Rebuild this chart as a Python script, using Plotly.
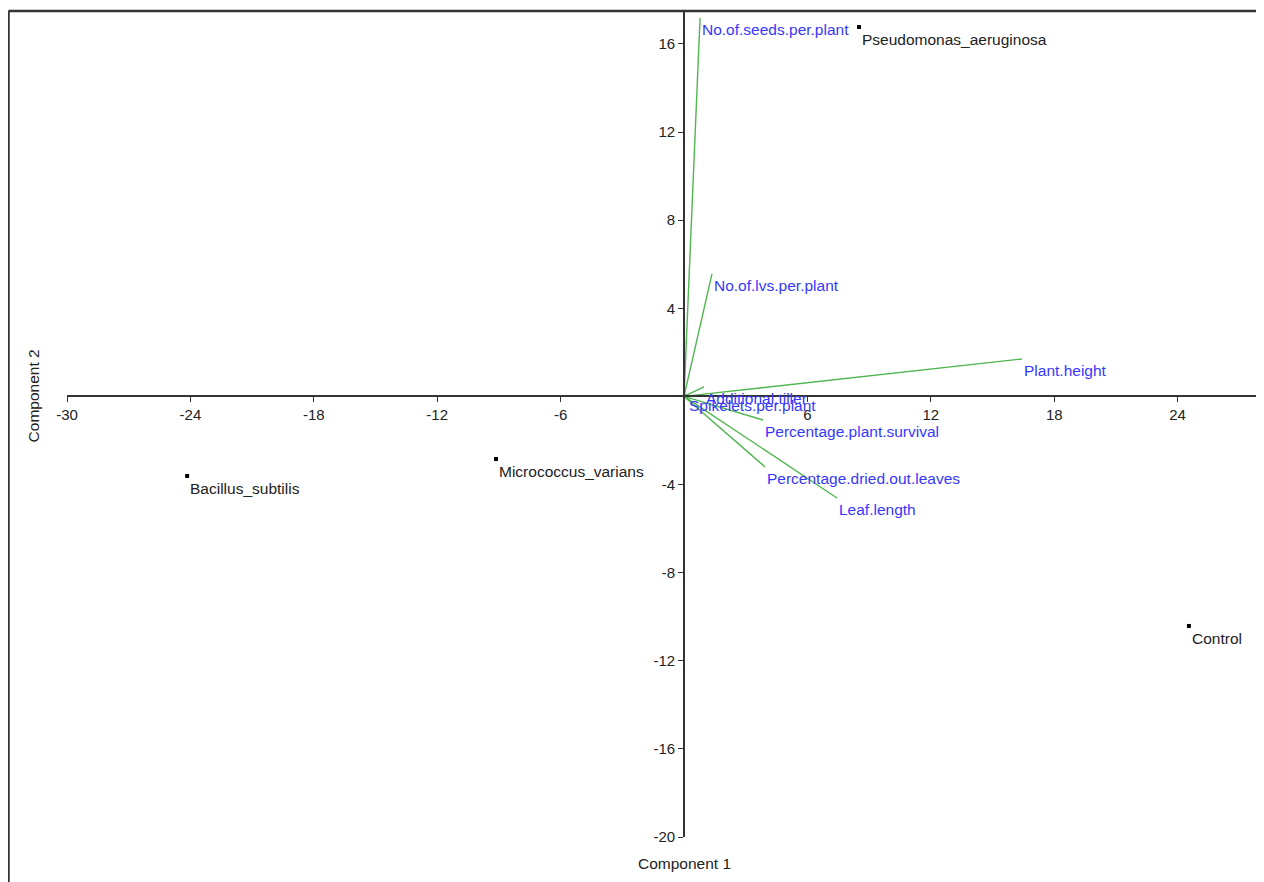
import plotly.graph_objects as go

# ---- data ----
sample_names = ["Pseudomonas_aeruginosa", "Bacillus_subtilis", "Micrococcus_varians", "Control"]
score_x = [8.51, -24.16, -9.14, 24.55]
score_y = [16.77, -3.61, -2.84, -10.42]

var_names = ["Plant.height", "No.of.seeds.per.plant", "No.of.lvs.per.plant",
             "Percentage.plant.survival", "Percentage.dried.out.leaves", "Leaf.length",
             "Additional.tiller", "Spikelets.per.plant"]
load_x = [16.43, 0.78, 1.36, 3.84, 3.94, 7.44, 0.97, 0.15]
load_y = [1.70, 17.18, 5.56, -1.07, -3.20, -4.61, 0.43, 0.11]

x_ticks = [-30, -24, -18, -12, -6, 6, 12, 18, 24]
y_ticks = [-20, -16, -12, -8, -4, 4, 8, 12, 16]

X_RANGE = [-30, 28.2]
Y_RANGE = [-20, 17.45]

FONT = "Liberation Sans, Arial, sans-serif"
GREEN = "rgb(80,182,80)"
BLUE = "rgb(55,55,255)"
TXT = "#222222"
LBL = 15.5

fig = go.Figure()

# loading vectors
lx, ly = [], []
for a, b in zip(load_x, load_y):
    lx += [0, a, None]
    ly += [0, b, None]
fig.add_trace(go.Scatter(x=lx, y=ly, mode="lines", line=dict(color=GREEN, width=1.4),
                         hoverinfo="skip", showlegend=False))

# sample scores
fig.add_trace(go.Scatter(x=score_x, y=score_y, mode="markers",
                         marker=dict(symbol="square", size=4, color="black"),
                         text=sample_names, showlegend=False))

annotations = []
for n, a, b in zip(var_names, load_x, load_y):
    annotations.append(dict(x=a, y=b, xref="x", yref="y", text=n, showarrow=False,
                            xanchor="left", yanchor="top", xshift=0, yshift=-1,
                            font=dict(family=FONT, size=LBL, color=BLUE)))
for n, a, b in zip(sample_names, score_x, score_y):
    annotations.append(dict(x=a, y=b, xref="x", yref="y", text=n, showarrow=False,
                            xanchor="left", yanchor="top", xshift=1, yshift=-2,
                            font=dict(family=FONT, size=LBL, color=TXT)))

W, H = 1256, 874
ML, MR, MT, MB = 59, 0, 4, 45
pw, ph = W - ML - MR, H - MT - MB

# axis titles
annotations.append(dict(x=0, y=0, xref="x", yref="paper", text="Component 1", showarrow=False,
                        xanchor="center", yanchor="top", yshift=-16,
                        font=dict(family=FONT, size=LBL, color=TXT)))
annotations.append(dict(x=(25 - ML) / pw, y=0, xref="paper", yref="y", text="Component 2",
                        showarrow=False, textangle=-90, xanchor="center", yanchor="middle",
                        font=dict(family=FONT, size=LBL, color=TXT)))

xpos = (0 - Y_RANGE[0]) / (Y_RANGE[1] - Y_RANGE[0])
ypos = (0 - X_RANGE[0]) / (X_RANGE[1] - X_RANGE[0])

left_px, top_px = 0.5, 3
fx = (left_px - ML) / pw
fy = 1 + (MT - top_px) / ph

fig.update_layout(
    width=W, height=H,
    margin=dict(l=ML, r=MR, t=MT, b=MB, pad=0),
    plot_bgcolor="white", paper_bgcolor="white",
    font=dict(family=FONT, size=15, color=TXT),
    xaxis=dict(range=X_RANGE, tickvals=x_ticks, ticktext=[str(v) for v in x_ticks],
               showgrid=False, zeroline=False, showline=True, linecolor="#333333", linewidth=1.6,
               ticks="outside", ticklen=5, tickcolor="#333333", anchor="free", position=xpos,
               tickfont=dict(family=FONT, size=15, color=TXT)),
    yaxis=dict(range=Y_RANGE, tickvals=y_ticks, ticktext=[str(v) for v in y_ticks],
               showgrid=False, zeroline=False, showline=True, linecolor="#333333", linewidth=1.6,
               ticks="outside", ticklen=5, tickcolor="#333333", anchor="free", position=ypos,
               tickfont=dict(family=FONT, size=15, color=TXT)),
    annotations=annotations,
    shapes=[
        dict(type="line", xref="paper", yref="paper", x0=fx, x1=1.01, y0=fy, y1=fy,
             line=dict(color="#333333", width=2.5)),
        dict(type="line", xref="paper", yref="paper", x0=fx, x1=fx, y0=fy, y1=-0.1,
             line=dict(color="#333333", width=2.5)),
    ],
)

fig.write_html("out.html")
